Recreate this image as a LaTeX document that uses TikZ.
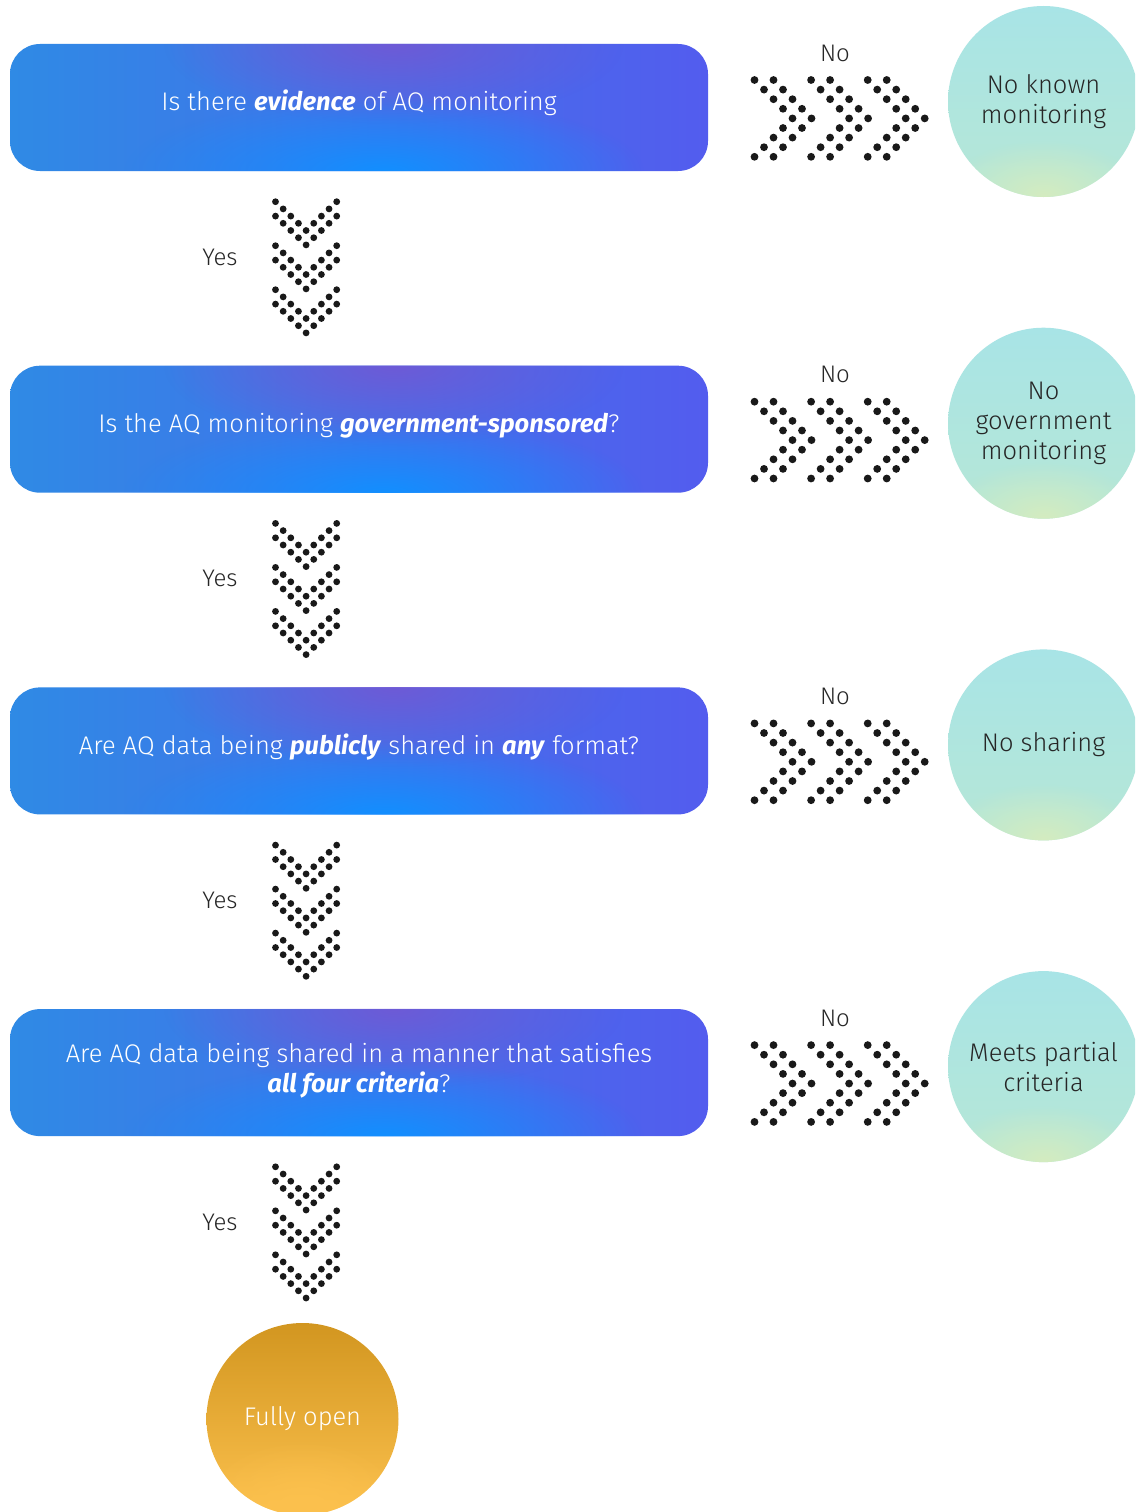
\documentclass[tikz,border=0pt]{standalone}
\usepackage{fontspec}
\setmainfont{Fira Sans Light}[BoldItalicFont={Fira Sans Bold Italic}, BoldFont={Fira Sans Bold}, ItalicFont={Fira Sans Light Italic}]
\usetikzlibrary{fadings,calc}
\tikzfading[name=glow, inner color=transparent!0, outer color=transparent!100]
\definecolor{boxL}{HTML}{2F8AE5}
\definecolor{boxR}{HTML}{535CEE}
\definecolor{boxP}{HTML}{7258D4}
\definecolor{boxB}{HTML}{128FFF}
\definecolor{tealT}{HTML}{A8E4E6}
\definecolor{tealM}{HTML}{AAE6E2}
\definecolor{tealE}{HTML}{B6E7D6}
\definecolor{tealB}{HTML}{D4ECC0}
\definecolor{goldT}{HTML}{D29620}
\definecolor{goldM}{HTML}{CA8B15}
\definecolor{goldB}{HTML}{FCC14E}
\definecolor{txt}{HTML}{262626}
\tikzset{
  qbox/.style={minimum width=698pt, minimum height=127pt, rounded corners=30pt,
    left color=boxL, right color=boxR, draw=none, inner sep=0pt},
  qtext/.style={text=white, font=\fontsize{25.5}{30}\selectfont, align=center},
  endcirc/.style={circle, minimum size=191pt, inner sep=0pt, draw=none,
    top color=tealT, middle color=tealM, bottom color=tealE},
  ctext/.style={text=txt, font=\fontsize{25.5}{30}\selectfont, align=center},
  lbl/.style={text=txt, font=\fontsize{24}{28}\selectfont},
  dotr/.style={fill=black!90},
}
\begin{document}
\begin{tikzpicture}[x=1pt,y=-1pt]
\useasboundingbox (0,0) rectangle (1135,1512);
\clip (0,0) rectangle (1135,1512);
\fill[white] (0,0) rectangle (1135,1512);
\foreach \i in {0,1,2,3}{
  \pgfmathsetmacro\oy{321.7*\i}
  % question box
  \node[qbox] (box\i) at (359,107.5+\oy) {};
  \begin{scope}
    \clip[rounded corners=30pt] (box\i.south west) rectangle (box\i.north east);
    \fill[boxP, path fading=glow, fill opacity=0.9] ($(box\i.north)+(35,0)$) ellipse (230pt and 80pt);
    \fill[boxB, path fading=glow] ($(box\i.south)+(25,0)$) ellipse (260pt and 75pt);
  \end{scope}
  % end circle
  \node[endcirc] (end\i) at (1043.5,101.5+\oy) {};
  \begin{scope}
    \clip (end\i) circle (95.5pt);
    \fill[tealB, path fading=glow] ($(end\i.south)+(0,-2)$) ellipse (100pt and 55pt);
  \end{scope}
  % No label
  \node[lbl] (no\i) at (835,53+\oy) {No};
  % right chevrons
  \foreach \k in {0,1,2}{
    \foreach \j in {0,...,8}{
      \pgfmathsetmacro\off{min(\j,8-\j)*9.5}
      \fill[dotr] (754.5+56.6*\k+\off,80+9.6*\j+\oy) circle (3.9pt);
      \fill[dotr] (773.5+56.6*\k+\off,80+9.6*\j+\oy) circle (3.9pt);
    }
  }
  % Yes label
  \node[lbl] (yes\i) at (220,257+\oy) {Yes};
  % down chevrons
  \foreach \k in {0,1,2}{
    \foreach \j in {0,...,8}{
      \pgfmathsetmacro\off{min(\j,8-\j)*7.2}
      \fill[dotr] (275.5+7.65*\j,201.7+44*\k+\off+\oy) circle (3.4pt);
      \fill[dotr] (275.5+7.65*\j,216.1+44*\k+\off+\oy) circle (3.4pt);
    }
  }
}
% texts
\node[qtext] (q0) at ($(box0)+(0,-5)$) {Is there \textbf{\textit{evidence}} of AQ monitoring};
\node[qtext] (q1) at ($(box1)+(0,-4)$) {Is the AQ monitoring \textbf{\textit{government-sponsored}}?};
\node[qtext] (q2) at ($(box2)+(0,-4)$) {Are AQ data being \textbf{\textit{publicly}} shared in \textbf{\textit{any}} format?};
\node[qtext] (q3) at ($(box3)+(0,-2)$) {Are AQ data being shared in a manner that satisfies\\\textbf{\textit{all four criteria}}?};
\node[ctext] (c0) at (end0) {No known\\monitoring};
\node[ctext] (c1) at (end1) {No\\government\\monitoring};
\node[ctext] (c2) at (end2) {No sharing};
\node[ctext] (c3) at (end3) {Meets partial\\criteria};
% final circle
\node[circle, minimum size=192pt, inner sep=0pt, top color=goldT, middle color=goldM, bottom color=goldB] (full) at (302.5,1419) {};
\begin{scope}
  \clip (full) circle (96pt);
  \fill[goldB, path fading=glow] ($(full.south)+(0,-5)$) ellipse (110pt and 70pt);
\end{scope}
\node[text=white, font=\fontsize{25.5}{30}\selectfont] (fullt) at (full) {Fully open};
\end{tikzpicture}
\end{document}
